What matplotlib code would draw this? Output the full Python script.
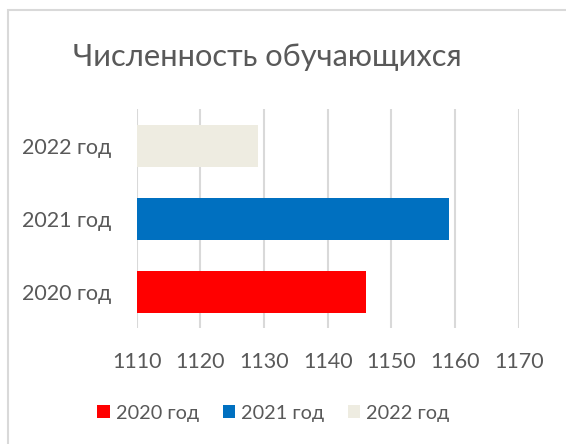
import matplotlib
matplotlib.use('Agg')
import matplotlib.pyplot as plt
from matplotlib.patches import Rectangle, Patch

plt.rcParams['font.family'] = ['Lato', 'DejaVu Sans']

categories = ['2020 год', '2021 год', '2022 год']
values = [1146, 1159, 1129]
colors = ['#FF0000', '#0070C0', '#EEECE1']
x_ticks = [1110, 1120, 1130, 1140, 1150, 1160, 1170]
title = 'Численность обучающихся'
text_color = '#595959'

fig = plt.figure(figsize=(5.66, 4.44), dpi=100)
ax = fig.add_axes([0.2415, 0.2606, 0.675, 0.4932])

base = x_ticks[0]
ax.barh(range(len(categories)), [v - base for v in values], left=base,
        height=0.57, color=colors, zorder=3)

ax.set_xlim(x_ticks[0], x_ticks[-1])
ax.set_ylim(-0.5, len(categories) - 0.5)
ax.set_xticks(x_ticks)
ax.set_yticks(range(len(categories)))
ax.set_yticklabels(categories)
ax.tick_params(axis='both', length=0, labelsize=15.5, colors=text_color)
ax.tick_params(axis='x', pad=17)
ax.tick_params(axis='y', pad=18)
ax.grid(axis='x', color='#D9D9D9', linewidth=1.5, zorder=0)
for s in ax.spines.values():
    s.set_visible(False)

fig.text(0.4726, 1 - 57 / 444, title, ha='center', va='center',
         fontsize=22.2, color=text_color)

handles = [Patch(facecolor=c, edgecolor='none', label=l) for c, l in zip(colors, categories)]
fig.legend(handles=handles, loc='center', bbox_to_anchor=(0.483, 1 - 413 / 444),
           ncol=3, frameon=False, fontsize=14.3, labelcolor=text_color,
           handlelength=0.62, handleheight=0.62, handletextpad=0.3, columnspacing=1.2)

# chart frame
fig.patches.append(Rectangle((7.5 / 566, -0.1), 1.2, 1 - 10.5 / 444 + 0.1,
                             transform=fig.transFigure, fill=False,
                             edgecolor='#D9D9D9', linewidth=1.5))

fig.savefig('out.png', dpi=100)
